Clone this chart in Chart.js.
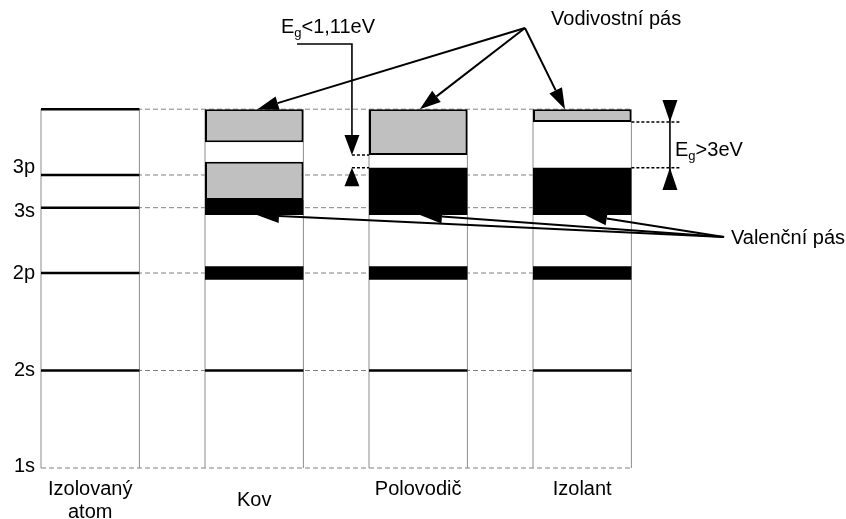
<!DOCTYPE html>
<html><head><meta charset="utf-8">
<script src="https://cdn.jsdelivr.net/npm/chart.js@4.4.1/dist/chart.umd.min.js"></script>
<style>html,body{margin:0;padding:0;background:#fff}#wrap{width:846px;height:519px;position:relative}</style>
</head><body><div id="wrap"><canvas id="c"></canvas></div>
<script>
// ---------------- data ----------------
const columnLabels = [['Izolovaný', 'atom'], 'Kov', ['Polovodič', ''], ['Izolant', '']];
const columnPos = [0, 1, 2, 3];

const levelNames = ['1s', '2s', '2p', '3s', '3p'];
const levelValues = [0, 10, 20, 26.7, 30.05];
const levelLabelPos = [0.2, 10, 20, 26.3, 30.8];
const bandTopValue = 36.8;

// isolated atom: discrete levels
const atomLevels = [10, 20, 26.7, 30.05, 36.8];
// 2s level stays a line in the solids
const solid2sCols = [1, 2, 3];
const solid2sValue = 10;

// conduction (grey) bands
const grayBandCol = [1, 1, 2, 3];
const grayBandLow = [33.4, 27.5, 32.1, 35.5];
const grayBandHigh = [36.8, 31.4, 36.8, 36.8];
// valence (black) bands
const valenceCol = [1, 2, 3];
const valenceLow = [25.95, 25.95, 25.95];
const valenceHigh = [27.5, 30.8, 30.8];
// 2p (black) bands
const band2pCol = [1, 2, 3];
const band2pLow = [19.3, 19.3, 19.3];
const band2pHigh = [20.7, 20.7, 20.7];

// gap edge markers (dotted)
const gapMarkerFrom = [1.596, 1.596, 3.3, 3.3];
const gapMarkerTo = [1.7, 1.7, 3.6, 3.6];
const gapMarkerY = [32.1, 30.8, 35.5, 30.8];

// annotation anchors (data units)
const condLabel = 'Vodivostní pás';
const condLabelAt = [2.81, 46.05];
const condArrowFrom = [2.651, 45.13];
const condArrowTipX = [1.02, 2.01, 2.895];
const condArrowTipY = [36.8, 36.8, 36.8];

const valLabel = 'Valenční pás';
const valLabelAt = [3.907, 23.49];
const valArrowFrom = [3.865, 23.69];
const valArrowTipX = [1.017, 2.011, 3.017];
const valArrowTipY = [25.95, 25.95, 25.95];

const egSmallLabel = ['E', 'g', '<1,11eV'];
const egSmallLabelAt = [1.163, 45.2];
const egSmallPath = [[1.261, 43.49], [1.596, 43.49], [1.596, 34.15]];
const egSmallDown = [1.596, 34.15, 32.1];   // x, base, tip
const egSmallUp = [1.596, 28.9, 30.8];

const egBigLabel = ['E', 'g', '>3eV'];
const egBigLabelAt = [3.566, 32.6];
const egBigLine = [3.535, 37.74, 28.51];
const egBigDown = [3.535, 37.74, 35.5];
const egBigUp = [3.535, 28.51, 30.8];

// ---------------- helpers ----------------
const HW = 0.3; // half column width (x units)
const FONT = '"Liberation Sans", Arial, Helvetica, sans-serif';
const FS = 20;

function segs(list) {
  const out = [];
  list.forEach(s => { out.push({x: s[0][0], y: s[0][1]}, {x: s[1][0], y: s[1][1]}, {x: s[1][0], y: null}); });
  return out;
}
function bars(cols, lo, hi) { return cols.map((c, i) => ({x: c, y: [lo[i], hi[i]]})); }

const connectorLevels = levelValues.concat([bandTopValue]);
const connectorData = segs(connectorLevels.map(v => [[-HW, v], [3 + HW, v]]));
const outlineData = segs(columnPos.flatMap(c => [[[c - HW, 0], [c - HW, bandTopValue]], [[c + HW, 0], [c + HW, bandTopValue]]]));
const solidData = segs(atomLevels.map(v => [[-HW, v], [HW, v]]).concat(solid2sCols.map(c => [[c - HW, solid2sValue], [c + HW, solid2sValue]])));
const gapData = segs(gapMarkerY.map((y, i) => [[gapMarkerFrom[i], y], [gapMarkerTo[i], y]]));

const lineBase = {type: 'line', pointRadius: 0, fill: false, tension: 0, spanGaps: false, clip: false};
const barBase = {grouped: false, categoryPercentage: 1, barPercentage: 0.6, borderSkipped: false};

function head(ctx, tx, ty, fx, fy, len, half) {
  const a = Math.atan2(ty - fy, tx - fx);
  const bx = tx - len * Math.cos(a), by = ty - len * Math.sin(a);
  const nx = -Math.sin(a) * half, ny = Math.cos(a) * half;
  ctx.beginPath(); ctx.moveTo(tx, ty); ctx.lineTo(bx + nx, by + ny); ctx.lineTo(bx - nx, by - ny); ctx.closePath(); ctx.fill();
  return [bx, by];
}
function subText(ctx, parts, x, y, size) {
  ctx.textBaseline = 'middle'; ctx.textAlign = 'left';
  ctx.font = size + 'px ' + FONT; ctx.fillText(parts[0], x, y); x += ctx.measureText(parts[0]).width;
  ctx.font = Math.round(size * 0.65) + 'px ' + FONT; ctx.fillText(parts[1], x, y + size * 0.3); x += ctx.measureText(parts[1]).width;
  ctx.font = size + 'px ' + FONT; ctx.fillText(parts[2], x, y);
}

const annotations = {
  id: 'bandAnnotations',
  afterDatasetsDraw(chart) {
    const {ctx, scales: {x, y}} = chart;
    const X = v => x.getPixelForValue(v), Y = v => y.getPixelForValue(v);
    ctx.save();
    ctx.fillStyle = '#000'; ctx.strokeStyle = '#000'; ctx.lineWidth = 2; ctx.lineCap = 'butt';
    condArrowTipX.forEach((tx, i) => {
      const fx = X(condArrowFrom[0]), fy = Y(condArrowFrom[1]);
      const b = head(ctx, X(tx), Y(condArrowTipY[i]), fx, fy, 21, 7);
      ctx.beginPath(); ctx.moveTo(fx, fy); ctx.lineTo(b[0], b[1]); ctx.stroke();
    });
    valArrowTipX.forEach((tx, i) => {
      const fx = X(valArrowFrom[0]), fy = Y(valArrowFrom[1]);
      const b = head(ctx, X(tx), Y(valArrowTipY[i]), fx, fy, 22, 7);
      ctx.beginPath(); ctx.moveTo(fx, fy); ctx.lineTo(b[0], b[1]); ctx.stroke();
    });
    ctx.lineWidth = 1.6;
    ctx.beginPath();
    egSmallPath.forEach((p, i) => { i ? ctx.lineTo(X(p[0]), Y(p[1])) : ctx.moveTo(X(p[0]), Y(p[1])); });
    ctx.stroke();
    head(ctx, X(egSmallDown[0]), Y(egSmallDown[2]), X(egSmallDown[0]), Y(egSmallDown[1]), Y(egSmallDown[2]) - Y(egSmallDown[1]), 7.5);
    head(ctx, X(egSmallUp[0]), Y(egSmallUp[2]), X(egSmallUp[0]), Y(egSmallUp[1]), Y(egSmallUp[1]) - Y(egSmallUp[2]), 7.5);
    ctx.beginPath(); ctx.moveTo(X(egBigLine[0]), Y(egBigLine[1])); ctx.lineTo(X(egBigLine[0]), Y(egBigLine[2])); ctx.stroke();
    head(ctx, X(egBigDown[0]), Y(egBigDown[2]), X(egBigDown[0]), Y(egBigDown[1]), Y(egBigDown[2]) - Y(egBigDown[1]), 7.5);
    head(ctx, X(egBigUp[0]), Y(egBigUp[2]), X(egBigUp[0]), Y(egBigUp[1]), Y(egBigUp[1]) - Y(egBigUp[2]), 7.5);
    ctx.fillStyle = '#000';
    ctx.font = FS + 'px ' + FONT; ctx.textBaseline = 'middle'; ctx.textAlign = 'left';
    ctx.fillText(condLabel, X(condLabelAt[0]), Y(condLabelAt[1]));
    ctx.fillText(valLabel, X(valLabelAt[0]), Y(valLabelAt[1]));
    subText(ctx, egSmallLabel, X(egSmallLabelAt[0]), Y(egSmallLabelAt[1]), FS);
    subText(ctx, egBigLabel, X(egBigLabelAt[0]), Y(egBigLabelAt[1]), FS);
    ctx.restore();
  }
};

Chart.defaults.font.family = FONT;
Chart.defaults.font.size = FS;
Chart.defaults.color = '#000';

function noPad(s) { s.paddingTop = 0; s.paddingBottom = 0; s.paddingLeft = 0; s.paddingRight = 0; }

new Chart(document.getElementById('c'), {
  type: 'bar',
  data: {
    datasets: [
      Object.assign({}, lineBase, {label: 'connectors', data: connectorData, borderColor: '#808080', borderWidth: 1, borderDash: [5, 3], order: 10}),
      Object.assign({}, lineBase, {label: 'columns', data: outlineData, borderColor: '#8c8c8c', borderWidth: 1, order: 9}),
      Object.assign({}, barBase, {label: 'Vodivostní pás', data: bars(grayBandCol, grayBandLow, grayBandHigh), backgroundColor: '#c0c0c0', borderColor: '#000', borderWidth: 2, order: 5}),
      Object.assign({}, barBase, {label: 'Valenční pás', data: bars(valenceCol, valenceLow, valenceHigh), backgroundColor: '#000', borderWidth: 0, order: 5}),
      Object.assign({}, barBase, {label: '2p', data: bars(band2pCol, band2pLow, band2pHigh), backgroundColor: '#000', borderWidth: 0, order: 5}),
      Object.assign({}, lineBase, {label: 'levels', data: solidData, borderColor: '#000', borderWidth: 2.5, order: 2}),
      Object.assign({}, lineBase, {label: 'gap edges', data: gapData, borderColor: '#000', borderWidth: 1.5, borderDash: [3, 2], order: 1})
    ]
  },
  options: {
    responsive: true, maintainAspectRatio: false, animation: false, devicePixelRatio: 1, events: [],
    layout: {padding: {left: 0, right: 1, top: 0, bottom: 0}},
    plugins: {legend: {display: false}, tooltip: {enabled: false}},
    scales: {
      x: {
        type: 'linear', offset: false, min: -HW, max: -HW + 804 / 164,
        grid: {display: false, drawTicks: false}, border: {display: false},
        afterBuildTicks: s => { s.ticks = columnPos.map(v => ({value: v})); },
        afterFit: s => { s.height = 51; noPad(s); },
        ticks: {autoSkip: false, maxRotation: 0, minRotation: 0, padding: 21, crossAlign: 'center',
          font: {size: FS, lineHeight: 23 / FS},
          callback: (v, i) => columnLabels[i]}
      },
      y: {
        type: 'linear', min: 0, max: 48,
        grid: {display: false, drawTicks: false}, border: {display: false},
        afterBuildTicks: s => { s.ticks = levelLabelPos.map(v => ({value: v})); },
        afterFit: s => { s.width = 41; noPad(s); },
        ticks: {autoSkip: false, padding: 6, font: {size: FS},
          callback: (v, i) => levelNames[i]}
      }
    }
  },
  plugins: [annotations]
});
</script>
</body></html>
